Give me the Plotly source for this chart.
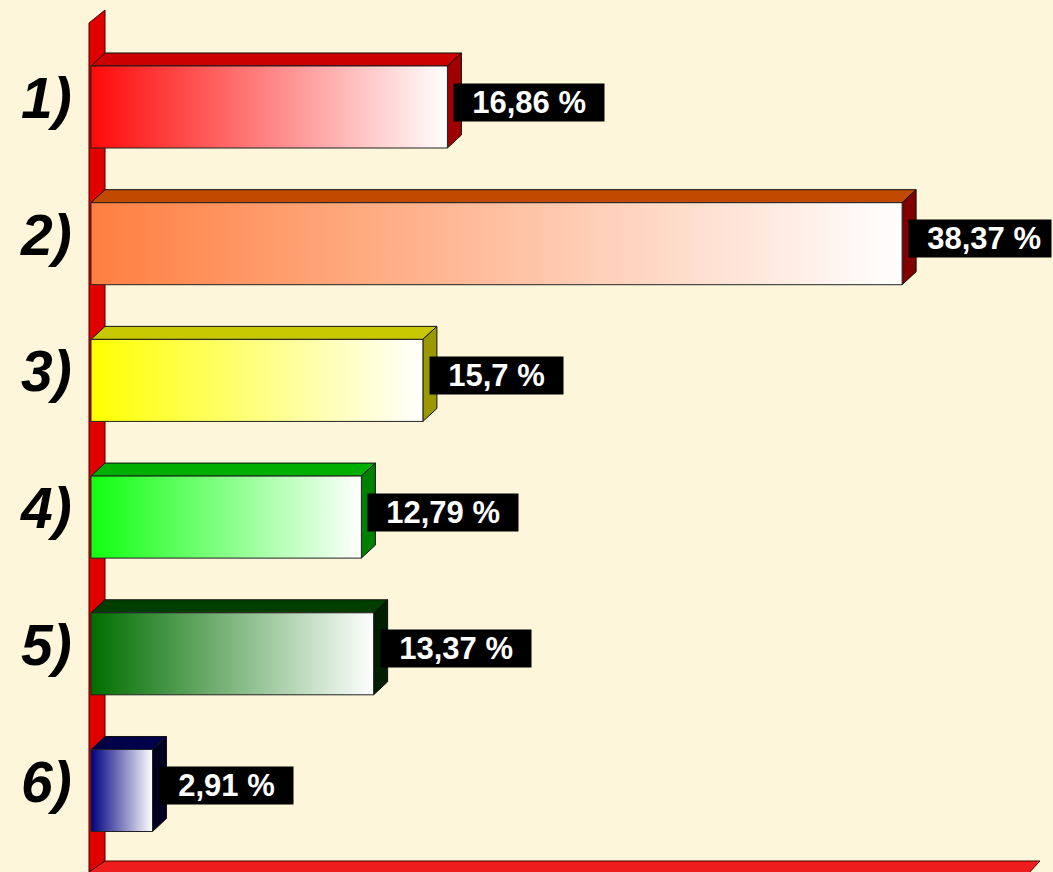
import plotly.graph_objects as go

# ---- data ----
categories = ["1)", "2)", "3)", "4)", "5)", "6)"]
values = [16.86, 38.37, 15.7, 12.79, 13.37, 2.91]
value_labels = ["16,86 %", "38,37 %", "15,7 %", "12,79 %", "13,37 %", "2,91 %"]

# ---- styles ----
front_colors = ["#FF0A0A", "#FF7F40", "#FFFF00", "#10FF10", "#006E00", "#000080"]
top_colors = ["#CC0000", "#C24A00", "#C8C800", "#00B000", "#003E00", "#00004A"]
side_colors = ["#A00000", "#800000", "#9A9A00", "#008000", "#001E00", "#000020"]
BG = "#FDF6DB"

W, H = 1053, 872
X0_PX = 91          # pixel of value 0
PX_PER_UNIT = 21.14
Y0_PX = 107         # pixel centre of first category
PX_PER_CAT = 136.7
BAR_H = 0.6         # in category units
DX_PX, DY_PX = 14, 13
NB = "\u00a0"


def px2x(px):
    return (px - X0_PX) / PX_PER_UNIT


def px2y(py):
    return (py - Y0_PX) / PX_PER_CAT


dx = DX_PX / PX_PER_UNIT
dy = DY_PX / PX_PER_CAT

fig = go.Figure()

# left wall
wall = [(89, 23), (105, 10), (105, 861), (89, 872), (89, 23)]
fig.add_trace(go.Scatter(x=[px2x(p[0]) for p in wall], y=[px2y(p[1]) for p in wall],
                         mode="lines", fill="toself", fillcolor="#E00000",
                         line=dict(color="#400000", width=1), hoverinfo="skip", showlegend=False))
# floor
floor = [(89, 872), (105, 861), (1040, 861), (1027, 875), (89, 875), (89, 872)]
fig.add_trace(go.Scatter(x=[px2x(p[0]) for p in floor], y=[px2y(p[1]) for p in floor],
                         mode="lines", fill="toself", fillcolor="#EE1C1C",
                         line=dict(color="#400000", width=1), hoverinfo="skip", showlegend=False))

for i, v in enumerate(values):
    top = i - BAR_H / 2
    bot = i + BAR_H / 2
    # top face
    fig.add_trace(go.Scatter(x=[0, v, v + dx, dx, 0], y=[top, top, top - dy, top - dy, top],
                             mode="lines", fill="toself", fillcolor=top_colors[i],
                             line=dict(color="#111111", width=1), hoverinfo="skip", showlegend=False))
    # side face
    fig.add_trace(go.Scatter(x=[v, v + dx, v + dx, v, v], y=[top, top - dy, bot - dy, bot, top],
                             mode="lines", fill="toself", fillcolor=side_colors[i],
                             line=dict(color="#111111", width=1), hoverinfo="skip", showlegend=False))
    # front face with gradient
    fig.add_trace(go.Scatter(x=[0, v, v, 0, 0], y=[top, top, bot, bot, top],
                             mode="lines", fill="toself",
                             fillgradient=dict(type="horizontal",
                                               colorscale=[[0, front_colors[i]], [1, "#FFFFFF"]]),
                             line=dict(color="#222222", width=1),
                             hovertemplate=categories[i] + " " + value_labels[i] + "<extra></extra>",
                             showlegend=False))
    # value label (less trailing padding when the box would run off the right edge)
    end_px = X0_PX + v * PX_PER_UNIT
    trail = NB if end_px > 860 else NB * 2
    fig.add_annotation(x=v + px2x(X0_PX + 6), y=i, xref="x", yref="y", yshift=5,
                       text="<b>" + NB * 2 + value_labels[i] + trail + "</b>", showarrow=False,
                       xanchor="left", yanchor="middle",
                       font=dict(family="Liberation Sans, Arial", size=31, color="white"),
                       bgcolor="black", borderpad=1)
    # category label
    fig.add_annotation(x=px2x(74), y=i, xref="x", yref="y", yshift=9,
                       text="<b><i>" + categories[i] + "</i></b>", showarrow=False,
                       xanchor="right", yanchor="middle",
                       font=dict(family="Liberation Sans, Arial", size=57, color="black"))

fig.update_layout(
    width=W, height=H,
    margin=dict(l=0, r=0, t=0, b=0, autoexpand=False),
    paper_bgcolor=BG, plot_bgcolor=BG,
    xaxis=dict(range=[px2x(0), px2x(W)], visible=False, fixedrange=True),
    yaxis=dict(range=[px2y(H), px2y(0)], visible=False, fixedrange=True),
)

fig.write_html("out.html", config={"displayModeBar": False},
               post_script="document.body.style.margin='0';document.body.style.overflow='hidden';"
                           "document.body.style.background='" + BG + "';")
